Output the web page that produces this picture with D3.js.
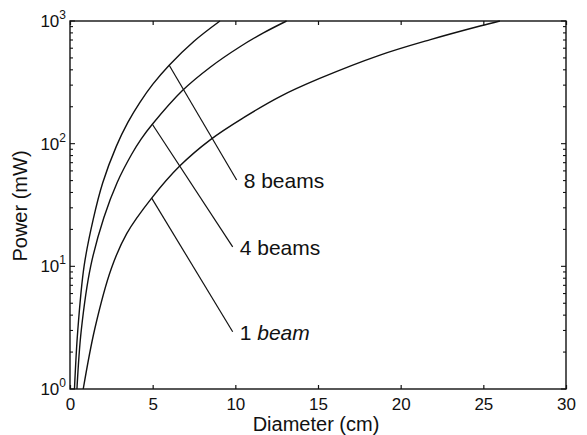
<!DOCTYPE html>
<html>
<head>
<meta charset="utf-8">
<script src="https://cdn.jsdelivr.net/npm/d3@7"></script>
<style>
  body { margin: 0; background: #fff; }
  text { font-family: "Liberation Sans", Arial, sans-serif; fill: #111; }
</style>
</head>
<body>
<div id="chart"></div>
<script>
// chart size
var svgWidth = 587;
var svgHeight = 435;

// plot box in pixels
var margin = { top: 21, right: 21, bottom: 46, left: 70 };
var width = svgWidth - margin.left - margin.right;
var height = svgHeight - margin.top - margin.bottom;

// values: diameter (cm) and power (mW)
var beams8Diameter = [0.27, 0.47, 0.85, 1.4, 1.98, 2.8, 3.5, 4.23, 5.0, 6.0, 7.5, 9.07];
var beams8Power    = [1, 3, 10, 24, 48, 95, 149, 217, 304, 436, 684, 1000];

var beams4Diameter = [0.42, 0.68, 1.25, 2.05, 2.86, 3.73, 4.3, 4.98, 6.8, 8.5, 10.28, 11.7, 13.1];
var beams4Power    = [1, 3, 10, 25, 48.5, 82, 109, 144, 271, 422, 617, 800, 1000];

var beams1Diameter = [0.8, 1.5, 2.5, 3.43, 4.94, 6.65, 8.5, 10.5, 12.7, 15.1, 18.75, 21.8, 24.8, 26];
var beams1Power    = [1, 3.1, 9.6, 18.5, 36, 66, 108, 163, 242, 340, 527, 705, 910, 1000];

// annotation leaders: start on curve, end near label
var labelNames   = ["8 beams", "4 beams", "1 beam"];
var leaderFromD  = [6.0, 4.98, 4.94];
var leaderFromP  = [436, 144, 36];
var leaderToD    = [10.08, 9.84, 9.84];
var leaderToP    = [50.5, 14.4, 2.93];

// ticks
var xTicks = [0, 5, 10, 15, 20, 25, 30];
var yMajor = [1, 10, 100, 1000];
var yExp   = ["0", "1", "2", "3"];

var svg = d3.select("#chart")
  .append("svg")
  .attr("width", svgWidth)
  .attr("height", svgHeight);

var chartGroup = svg.append("g")
  .attr("transform", `translate(${margin.left}, ${margin.top})`);

var xScale = d3.scaleLinear().domain([0, 30]).range([0, width]);
var yScale = d3.scaleLog().domain([1, 1000]).range([height, 0]);

// minor log ticks 2..9 per decade
var yMinor = [];
[1, 10, 100].forEach(function(dec) {
  for (var k = 2; k <= 9; k++) yMinor.push(dec * k);
});

var ink = "#111";

// frame
chartGroup.append("rect")
  .attr("width", width)
  .attr("height", height)
  .attr("fill", "none")
  .attr("stroke", ink)
  .attr("stroke-width", 1.4);

// x ticks, bottom and top, pointing inward
var bottomAxis = d3.axisBottom(xScale).tickValues(xTicks).tickSizeInner(-4).tickSizeOuter(0).tickPadding(9);
var gx = chartGroup.append("g")
  .attr("transform", `translate(0, ${height})`)
  .call(bottomAxis);
gx.select(".domain").remove();
gx.selectAll("line").attr("stroke", ink).attr("stroke-width", 1.2);
gx.selectAll("text").attr("font-size", "17px").attr("fill", ink)
  .attr("font-family", "'Liberation Sans', Arial, sans-serif");

var topAxis = d3.axisTop(xScale).tickValues(xTicks).tickSizeInner(-4).tickSizeOuter(0).tickFormat("");
var gxt = chartGroup.append("g").call(topAxis);
gxt.select(".domain").remove();
gxt.selectAll("line").attr("stroke", ink).attr("stroke-width", 1.2);

// y ticks left and right
function yTickLines(values, len) {
  chartGroup.selectAll(null).data(values).enter().append("line")
    .attr("x1", 0).attr("x2", len)
    .attr("y1", d => yScale(d)).attr("y2", d => yScale(d))
    .attr("stroke", ink).attr("stroke-width", 1.1);
  chartGroup.selectAll(null).data(values).enter().append("line")
    .attr("x1", width).attr("x2", width - len)
    .attr("y1", d => yScale(d)).attr("y2", d => yScale(d))
    .attr("stroke", ink).attr("stroke-width", 1.1);
}
yTickLines(yMajor, 5);
yTickLines(yMinor, 3);

// y tick labels as 10^n
var yLabels = chartGroup.selectAll(null).data(yMajor).enter().append("text")
  .attr("x", -4)
  .attr("y", d => yScale(d) + 6)
  .attr("text-anchor", "end")
  .attr("font-size", "17px");
yLabels.append("tspan").text("10");
yLabels.append("tspan")
  .attr("dy", -8)
  .attr("font-size", "12px")
  .text((d, i) => yExp[i]);

// curves
var line = d3.line()
  .x(d => xScale(d[0]))
  .y(d => yScale(d[1]))
  .curve(d3.curveCatmullRom.alpha(0.5));

var series = [
  d3.zip(beams8Diameter, beams8Power),
  d3.zip(beams4Diameter, beams4Power),
  d3.zip(beams1Diameter, beams1Power)
];

chartGroup.selectAll(".curve")
  .data(series)
  .enter()
  .append("path")
  .attr("class", "curve")
  .attr("d", line)
  .attr("fill", "none")
  .attr("stroke", ink)
  .attr("stroke-width", 1.4);

// leaders and labels
labelNames.forEach(function(name, i) {
  var x1 = xScale(leaderFromD[i]), y1 = yScale(leaderFromP[i]);
  var x2 = xScale(leaderToD[i]), y2 = yScale(leaderToP[i]);
  chartGroup.append("line")
    .attr("x1", x1).attr("y1", y1)
    .attr("x2", x2).attr("y2", y2)
    .attr("stroke", ink)
    .attr("stroke-width", 1.2);
  var t = chartGroup.append("text")
    .attr("x", x2 + 7)
    .attr("y", y2 + 8)
    .attr("font-size", "21px");
  var parts = name.split(" ");
  t.append("tspan").text(parts[0] + " ");
  t.append("tspan")
    .attr("font-style", name === "1 beam" ? "italic" : "normal")
    .text(parts[1]);
});

// axis titles
svg.append("text")
  .attr("x", margin.left + width / 2 - 2)
  .attr("y", 431)
  .attr("text-anchor", "middle")
  .attr("font-size", "20px")
  .text("Diameter (cm)");

svg.append("text")
  .attr("transform", "rotate(-90)")
  .attr("x", -206)
  .attr("y", 27)
  .attr("text-anchor", "middle")
  .attr("font-size", "20px")
  .text("Power (mW)");
</script>
</body>
</html>
